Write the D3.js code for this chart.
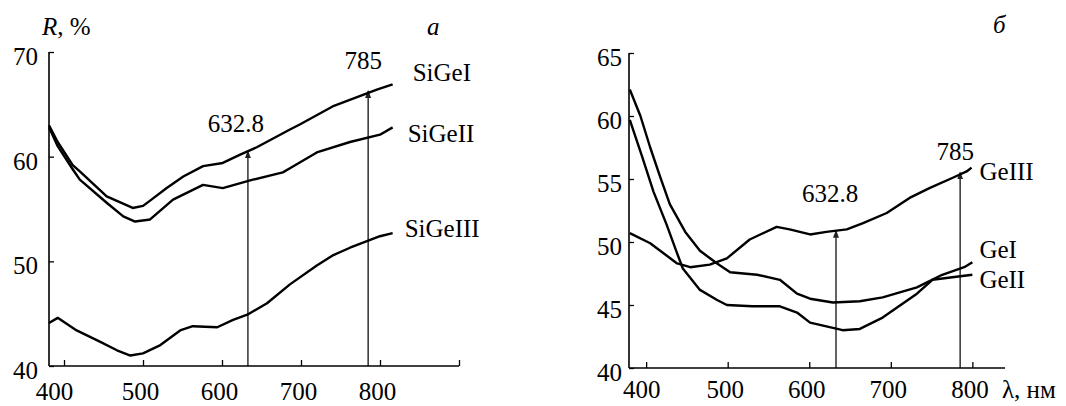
<!DOCTYPE html>
<html>
<head>
<meta charset="utf-8">
<script src="https://cdn.jsdelivr.net/npm/d3@7"></script>
<style>
body { margin: 0; background: #ffffff; }
svg, svg text { font-family: "Liberation Serif", "Times New Roman", Times, serif !important; }
svg text { font-size: 25px; fill: #000; }
</style>
</head>
<body>
<div id="container"></div>
<script>
// panel a: SiGe films
var wlSiGeI = [381, 392, 411, 420, 454, 487, 500, 509, 530, 551, 576, 601, 623, 644, 686, 699, 740, 796, 816]
var rSiGeI  = [63.0, 61.4, 59.2, 58.6, 56.2, 55.1, 55.3, 55.8, 57.0, 58.1, 59.1, 59.4, 60.2, 60.9, 62.6, 63.1, 64.8, 66.4, 66.9]

var wlSiGeII = [381, 392, 411, 420, 454, 475, 490, 509, 538, 576, 601, 639, 677, 686, 720, 762, 800, 816]
var rSiGeII  = [62.8, 61.0, 58.8, 57.8, 55.6, 54.3, 53.8, 54.0, 55.9, 57.3, 57.0, 57.8, 58.5, 58.9, 60.4, 61.4, 62.1, 62.8]

var wlSiGeIII = [381, 392, 416, 446, 467, 484, 500, 522, 547, 563, 594, 614, 632, 657, 686, 720, 741, 762, 800, 816]
var rSiGeIII  = [44.1, 44.6, 43.4, 42.3, 41.5, 41.0, 41.2, 42.0, 43.4, 43.8, 43.7, 44.4, 44.9, 46.0, 47.8, 49.6, 50.6, 51.3, 52.4, 52.7]

// panel b: Ge films
var wlGeI = [380, 393, 405, 417, 429, 448, 466, 487, 503, 536, 564, 585, 601, 629, 662, 690, 732, 763, 790, 800]
var rGeI  = [62.1, 60.0, 57.5, 55.2, 53.0, 50.8, 49.3, 48.3, 47.6, 47.4, 47.0, 45.9, 45.5, 45.2, 45.3, 45.6, 46.4, 47.4, 48.0, 48.4]

var wlGeII = [380, 395, 409, 425, 438, 445, 466, 487, 499, 530, 564, 585, 601, 641, 662, 690, 732, 751, 800]
var rGeII  = [59.7, 56.8, 54.0, 51.4, 49.1, 47.9, 46.2, 45.4, 45.0, 44.9, 44.9, 44.4, 43.6, 43.0, 43.1, 44.0, 45.9, 47.0, 47.4]

var wlGeIII = [380, 405, 438, 454, 478, 499, 527, 560, 576, 601, 621, 646, 666, 695, 723, 748, 776, 793, 799]
var rGeIII  = [50.7, 49.9, 48.3, 48.0, 48.2, 48.7, 50.2, 51.2, 51.0, 50.6, 50.8, 51.0, 51.5, 52.3, 53.5, 54.3, 55.1, 55.6, 55.9]

var laserLines = [632.8, 785]
var laserLabels = ['632.8', '785']
var xTicks = [400, 500, 600, 700, 800]
var yTicksA = [40, 50, 60, 70]
var yTicksB = [40, 45, 50, 55, 60, 65]

var serif = '"Liberation Serif", "Times New Roman", Times, serif'

var svg = d3.select('#container').append('svg')
    .attr('width', 1066)
    .attr('height', 406)
    .attr('font-family', serif)

svg.append('defs').append('marker')
    .attr('id', 'arrow')
    .attr('viewBox', '0 0 8 8')
    .attr('refX', 7)
    .attr('refY', 4)
    .attr('markerWidth', 8)
    .attr('markerHeight', 8)
    .attr('markerUnits', 'userSpaceOnUse')
    .attr('orient', 'auto')
    .append('path')
    .attr('d', 'M0,1L8,4L0,7z')
    .attr('fill', '#222')

function valueAt(wl, r, w){
    for(var i = 1; i < wl.length; i++){
        if(wl[i] >= w){
            var t = (w - wl[i - 1]) / (wl[i] - wl[i - 1])
            return r[i - 1] + t * (r[i] - r[i - 1])
        }
    }
    return r[r.length - 1]
}

function drawPanel(p){
    var x = d3.scaleLinear().domain(p.xDomain).range(p.xRange)
    var y = d3.scaleLinear().domain(p.yDomain).range(p.yRange)
    var g = svg.append('g')

    // laser lines, drawn under the curves
    var top = p.series[p.topIndex]
    laserLines.forEach(function(w, i){
        var v = valueAt(top.wl, top.r, w)
        g.append('line')
            .attr('x1', x(w)).attr('x2', x(w))
            .attr('y1', y(p.yDomain[0])).attr('y2', y(v) + (i === 0 ? 0 : -2))
            .attr('stroke', '#222')
            .attr('stroke-width', 1.4)
            .attr('marker-end', 'url(#arrow)')
        g.append('text')
            .attr('x', x(w) + p.laserDx[i])
            .attr('y', y(v) + p.laserDy[i])
            .attr('text-anchor', 'middle')
            .text(laserLabels[i])
    })

    var line = d3.line()
        .x(function(d){ return x(d[0]) })
        .y(function(d){ return y(d[1]) })

    p.series.forEach(function(s){
        var pts = s.wl.map(function(w, i){ return [w, s.r[i]] })
        g.append('path')
            .attr('d', line(pts))
            .attr('fill', 'none')
            .attr('stroke', '#000')
            .attr('stroke-width', 2.4)
            .attr('stroke-linejoin', 'round')
        var last = pts[pts.length - 1]
        g.append('text')
            .attr('x', x(last[0]) + s.dx)
            .attr('y', y(last[1]) + s.dy)
            .text(s.name)
    })

    var xAxis = g.append('g')
        .attr('transform', 'translate(0,' + y(p.yDomain[0]) + ')')
        .call(d3.axisBottom(x).tickValues(p.xTickValues).tickSize(-6).tickSizeOuter(0)
            .tickPadding(p.xPad).tickFormat(function(d){ return d > 800 ? '' : d }))
    xAxis.selectAll('text')
        .attr('dx', function(d){ return d === 400 ? p.firstDx : -3 })
    xAxis.select('.domain').attr('d', 'M' + p.xRange[0] + ',0H' + p.xRange[1])

    var yAxis = g.append('g')
        .attr('transform', 'translate(' + p.xRange[0] + ',0)')
        .call(d3.axisLeft(y).tickValues(p.yTickValues).tickSize(-5).tickSizeOuter(0).tickPadding(p.yPad))
    yAxis.selectAll('text').attr('dy', '0.5em')
    yAxis.select('.domain').attr('d', 'M0,' + p.yRange[0] + 'V' + p.yRange[1])

    xAxis.attr('font-family', serif).attr('font-size', 25)
    yAxis.attr('font-family', serif).attr('font-size', 25)
    svg.selectAll('.domain').attr('stroke-width', 1.6)
    svg.selectAll('.tick line').attr('stroke-width', 1.3)
}

drawPanel({
    xDomain: [381, 900], xRange: [49, 459],
    yDomain: [40, 70], yRange: [366, 52],
    xTickValues: xTicks.concat([900]), yTickValues: yTicksA,
    xPad: 16, yPad: 11, firstDx: -10,
    topIndex: 0,
    laserDx: [-12, -5], laserDy: [-19, -24],
    series: [
        { name: 'SiGeI', wl: wlSiGeI, r: rSiGeI, dx: 20, dy: -3 },
        { name: 'SiGeII', wl: wlSiGeII, r: rSiGeII, dx: 15, dy: 15 },
        { name: 'SiGeIII', wl: wlSiGeIII, r: rSiGeIII, dx: 12, dy: 4 }
    ]
})

drawPanel({
    xDomain: [379, 840], xRange: [629, 1005],
    yDomain: [40, 65], yRange: [368, 53],
    xTickValues: xTicks, yTickValues: yTicksB,
    xPad: 12, yPad: 7, firstDx: -5,
    topIndex: 2,
    laserDx: [-6, -5], laserDy: [-29, -14],
    series: [
        { name: 'GeI', wl: wlGeI, r: rGeI, dx: 7, dy: -4 },
        { name: 'GeII', wl: wlGeII, r: rGeII, dx: 7, dy: 13 },
        { name: 'GeIII', wl: wlGeIII, r: rGeIII, dx: 8, dy: 12 }
    ]
})

var rLabel = svg.append('text').attr('x', 42).attr('y', 35)
rLabel.append('tspan').attr('font-style', 'italic').text('R')
rLabel.append('tspan').text(', %')

svg.append('text').attr('x', 427).attr('y', 35).attr('font-style', 'italic').text('а')
svg.append('text').attr('x', 993).attr('y', 33).attr('font-style', 'italic').text('б')
svg.append('text').attr('x', 1002).attr('y', 398).text('λ, нм')
</script>
</body>
</html>
